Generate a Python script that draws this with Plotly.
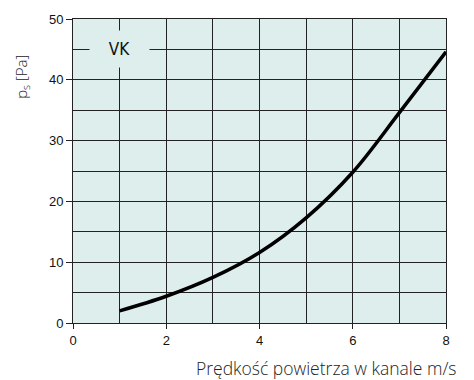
import plotly.graph_objects as go

# Air velocity in the duct [m/s] and static pressure loss [Pa]
velocity = [1, 2, 3, 4, 5, 6, 7, 8]
pressure = [2.0, 4.4, 7.5, 11.6, 17.3, 24.8, 34.6, 44.6]

x_ticks = [0, 2, 4, 6, 8]
y_ticks = [0, 10, 20, 30, 40, 50]

bg = "#ddeeed"
grid = "#222222"
font_ticks = dict(family="Liberation Sans, Arial", size=13, color="#111")

# plot area in pixels: 73..446 horizontally, 13..323 vertically
PW, PH = 373, 310

fig = go.Figure()
fig.add_trace(go.Scatter(
    x=velocity, y=pressure, mode="lines",
    line=dict(color="black", width=3.5, shape="spline", smoothing=1.0),
    hoverinfo="skip", showlegend=False,
))

fig.update_layout(
    width=474, height=380,
    margin=dict(l=73, r=28, t=13, b=57),
    plot_bgcolor=bg, paper_bgcolor="white",
    xaxis=dict(
        range=[0, 8], tickvals=x_ticks, ticktext=[str(v) for v in x_ticks],
        showgrid=True, gridcolor=grid, gridwidth=1,
        minor=dict(dtick=1, showgrid=True, gridcolor=grid, gridwidth=1),
        showline=True, linecolor=grid, linewidth=1, mirror=True,
        ticks="outside", ticklen=5, tickcolor=grid, tickfont=font_ticks,
        zeroline=False, fixedrange=True,
    ),
    yaxis=dict(
        range=[0, 50], tickvals=y_ticks,
        showgrid=True, gridcolor=grid, gridwidth=1,
        minor=dict(dtick=5, showgrid=True, gridcolor=grid, gridwidth=1),
        showline=True, linecolor=grid, linewidth=1, mirror=True,
        ticks="outside", ticklen=6, tickcolor=grid, tickfont=font_ticks,
        zeroline=False, fixedrange=True,
    ),
    annotations=[
        dict(x=1.0, y=45, xref="x", yref="y", text="VK", showarrow=False,
             font=dict(family="DejaVu Sans Condensed, Liberation Sans Narrow, DejaVu Sans",
                       size=17, color="#111"),
             bgcolor=bg, borderpad=9, width=41, height=18),
        dict(x=-(73 - 22) / PW, y=(323 - 72) / PH, xref="paper", yref="paper",
             xanchor="center", yanchor="middle", text="p<sub>s</sub> [Pa]",
             showarrow=False, textangle=-90,
             font=dict(family="Open Sans, DejaVu Sans", size=15, color="#222",
                       weight=300)),
        dict(x=(459 - 73) / PW, y=-(355 - 323) / PH, xref="paper", yref="paper",
             xanchor="right", yanchor="top",
             text="Prędkość powietrza w kanale m/s", showarrow=False,
             font=dict(family="Open Sans, DejaVu Sans", size=17.5, color="#222",
                       weight=300)),
    ],
)

fig.write_html("out.html")
